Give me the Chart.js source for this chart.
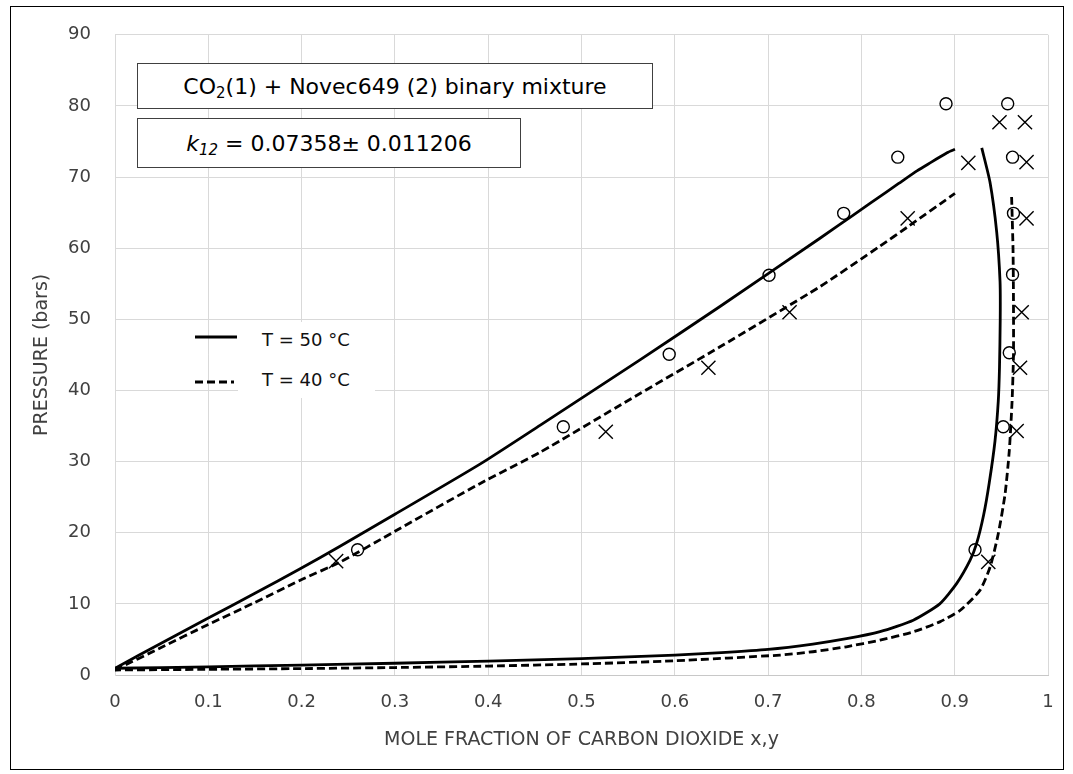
<!DOCTYPE html>
<html>
<head>
<meta charset="utf-8">
<script src="https://cdn.jsdelivr.net/npm/chart.js@4/dist/chart.umd.min.js"></script>
<style>
  html, body { margin: 0; padding: 0; background: #fff; }
  #wrap { position: relative; width: 1073px; height: 774px; overflow: hidden; font-family: "DejaVu Sans", sans-serif; }
  #c { position: absolute; left: 0; top: 0; }
  .ov { position: absolute; box-sizing: border-box; }
  #frame { left: 10px; top: 6px; width: 1054px; height: 764px; border: 1.5px solid #000; pointer-events: none; }
  .box { border: 1.5px solid #404040; background: #fff; color: #000; display: flex; align-items: center; justify-content: center; white-space: nowrap; }
  #box1 { left: 137px; top: 63px; width: 516px; height: 46px; font-size: 22px; }
  #box2 { left: 137px; top: 118px; width: 384px; height: 50px; font-size: 22px; }
  .box sub { font-size: 0.68em; vertical-align: -0.3em; line-height: 0; }
  #legbg { left: 238px; top: 322px; width: 137px; height: 76px; background: #fff; }
  .legtxt { position: absolute; left: 262px; height: 24px; line-height: 24px; font-size: 18px; color: #111; white-space: nowrap; }
</style>
</head>
<body>
<div id="wrap">
  <canvas id="c" width="1073" height="774"></canvas>
  <div class="ov box" id="box1"><span>CO<sub>2</sub>(1) + Novec649 (2) binary mixture</span></div>
  <div class="ov box" id="box2"><span><i>k<sub>12</sub></i> = 0.07358± 0.011206</span></div>
  <div class="ov" id="legbg"></div>
  <svg class="ov" style="left:190px;top:325px;" width="52" height="70">
    <line x1="5" y1="12" x2="47" y2="12" stroke="#000" stroke-width="3"/>
    <line x1="5" y1="57" x2="44" y2="57" stroke="#000" stroke-width="3" stroke-dasharray="8 4"/>
  </svg>
  <div class="legtxt" style="top:328px;">T = 50 °C</div>
  <div class="legtxt" style="top:368px;">T = 40 °C</div>
  <div class="ov" id="frame"></div>
</div>
<script>
// ---- tick labels ----
const xTickValues = [0, 0.1, 0.2, 0.3, 0.4, 0.5, 0.6, 0.7, 0.8, 0.9, 1];
const xTickLabels = ['0', '0.1', '0.2', '0.3', '0.4', '0.5', '0.6', '0.7', '0.8', '0.9', '1'];
const yTickValues = [0, 10, 20, 30, 40, 50, 60, 70, 80, 90];

// ---- model curves, T = 50 C ----
const x50Bubble = [0, 0.05, 0.1, 0.15, 0.198, 0.2412, 0.3, 0.3912, 0.4555, 0.5627, 0.6484, 0.7556, 0.7913, 0.8271, 0.84, 0.86, 0.875, 0.885, 0.893, 0.9003];
const p50Bubble = [0.95, 4.5, 8.0, 11.5, 14.9, 18.1, 22.6, 29.65, 35.1, 44.3, 51.8, 61.4, 64.66, 67.93, 69.1, 70.9, 72.1, 72.9, 73.5, 73.9];
const x50Dew = [0.929, 0.9378, 0.945, 0.9486, 0.9488, 0.948, 0.9467, 0.9432, 0.937, 0.931, 0.9235, 0.9164, 0.902, 0.884, 0.8556, 0.82, 0.784, 0.748, 0.7, 0.65, 0.6, 0.5, 0.4, 0.3, 0.2, 0.1, 0];
const p50Dew = [74.1, 69.3, 62.3, 55.3, 50.0, 43.2, 38.5, 32.9, 27.0, 22.5, 18.5, 16.1, 12.84, 10.0, 7.7, 6.1, 5.1, 4.35, 3.6, 3.15, 2.8, 2.3, 1.95, 1.65, 1.4, 1.15, 0.95];

// ---- model curves, T = 40 C ----
const x40Bubble = [0, 0.05, 0.1, 0.15, 0.198, 0.2412, 0.3, 0.391, 0.4555, 0.55, 0.648, 0.7556, 0.82, 0.8496, 0.9003];
const p40Bubble = [0.7, 3.9, 7.1, 10.2, 13.3, 15.87, 20.2, 26.9, 31.3, 38.6, 46.1, 54.6, 60.3, 63.0, 67.7];
const x40Dew = [0.961, 0.9625, 0.963, 0.963, 0.9615, 0.9585, 0.954, 0.9467, 0.938, 0.927, 0.906, 0.884, 0.8556, 0.82, 0.784, 0.748, 0.7128, 0.6, 0.5, 0.4, 0.3, 0.2, 0.1, 0];
const p40Dew = [67.2, 60.0, 52.5, 45.0, 38.5, 31.5, 25.45, 19.85, 15.2, 11.9, 9.1, 7.47, 6.07, 4.9, 3.97, 3.27, 2.8, 2.0, 1.55, 1.25, 1.05, 0.9, 0.8, 0.7];

// ---- experimental points ----
const x50ExpLiq = [0.260, 0.4805, 0.594, 0.701, 0.781, 0.839, 0.8907];
const p50ExpLiq = [17.6, 34.9, 45.1, 56.2, 64.9, 72.8, 80.3];
const x50ExpVap = [0.9218, 0.952, 0.9585, 0.962, 0.963, 0.962, 0.9568];
const p50ExpVap = [17.6, 34.9, 45.3, 56.3, 64.9, 72.8, 80.3];
const x40ExpLiq = [0.237, 0.526, 0.636, 0.723, 0.8496, 0.9146, 0.948];
const p40ExpLiq = [16.0, 34.2, 43.2, 51.0, 64.2, 72.0, 77.7];
const x40ExpVap = [0.936, 0.9664, 0.970, 0.9718, 0.977, 0.977, 0.9753];
const p40ExpVap = [15.9, 34.3, 43.2, 51.0, 64.2, 72.1, 77.7];

const pts = (xs, ys) => xs.map((x, i) => ({ x: x, y: ys[i] }));
const FONT = '"DejaVu Sans", sans-serif';

const lineDs = (label, xs, ys, dash) => ({
  label: label, data: pts(xs, ys), showLine: true, pointRadius: 0, pointHoverRadius: 0,
  borderColor: '#000', borderWidth: 2.8, borderDash: dash, tension: 0.2, fill: false
});
const markDs = (label, xs, ys, style, r) => ({
  label: label, data: pts(xs, ys), showLine: false, pointStyle: style, pointRadius: r, pointHoverRadius: r,
  borderColor: '#000', backgroundColor: 'rgba(0,0,0,0)', pointBorderWidth: 1.4, borderWidth: 1.4
});

new Chart(document.getElementById('c'), {
  type: 'scatter',
  data: {
    datasets: [
      markDs('50 C exp liquid', x50ExpLiq, p50ExpLiq, 'circle', 6),
      markDs('50 C exp vapour', x50ExpVap, p50ExpVap, 'circle', 6),
      markDs('40 C exp liquid', x40ExpLiq, p40ExpLiq, 'crossRot', 10),
      markDs('40 C exp vapour', x40ExpVap, p40ExpVap, 'crossRot', 10),
      lineDs('T = 50 °C bubble', x50Bubble, p50Bubble, []),
      lineDs('T = 50 °C dew', x50Dew, p50Dew, []),
      lineDs('T = 40 °C bubble', x40Bubble, p40Bubble, [8, 4]),
      lineDs('T = 40 °C dew', x40Dew, p40Dew, [8, 4])
    ]
  },
  options: {
    responsive: false,
    animation: false,
    devicePixelRatio: 1,
    layout: { padding: { top: 32, right: 25, left: 0, bottom: 0 } },
    plugins: { legend: { display: false }, tooltip: { enabled: false } },
    scales: {
      x: {
        type: 'linear', min: 0, max: 1,
        afterBuildTicks: s => { s.ticks = xTickValues.map(v => ({ value: v })); },
        afterFit: s => { s.height = 99; },
        grid: { color: '#d9d9d9', lineWidth: 1, drawTicks: false },
        border: { color: '#c8c8c8', width: 1 },
        ticks: {
          padding: 17, color: '#404040', autoSkip: false, maxRotation: 0,
          font: { family: FONT, size: 18 },
          callback: (v, i) => xTickLabels[i]
        },
        title: {
          display: true, text: 'MOLE FRACTION OF CARBON DIOXIDE x,y', color: '#404040',
          font: { family: FONT, size: 19 }, padding: { top: 0, bottom: 23 }
        }
      },
      y: {
        type: 'linear', min: 0, max: 90,
        afterBuildTicks: s => { s.ticks = yTickValues.map(v => ({ value: v })); },
        afterFit: s => { s.width = 115; },
        grid: { color: '#d9d9d9', lineWidth: 1, drawTicks: false },
        border: { color: '#d9d9d9', width: 1 },
        ticks: { padding: 24, color: '#404040', font: { family: FONT, size: 18 } },
        title: {
          display: true, text: 'PRESSURE (bars)', color: '#404040',
          font: { family: FONT, size: 19 }, padding: { top: 31, bottom: 0 }
        }
      }
    }
  }
});
</script>
</body>
</html>
